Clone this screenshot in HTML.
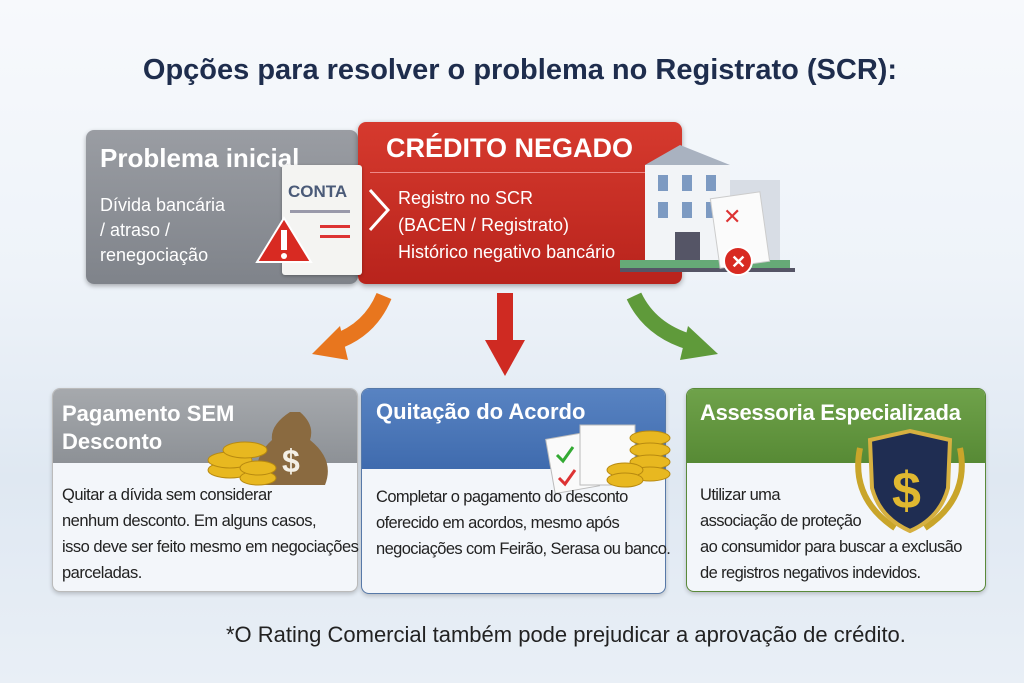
<!DOCTYPE html>
<html><head><meta charset="utf-8"><style>
body{margin:0;width:1024px;height:683px;overflow:hidden;font-family:"Liberation Sans",sans-serif;background:linear-gradient(180deg,#f7f9fc 0%,#eef3f9 40%,#dfe8f2 70%,#e9eff6 100%);position:relative}
.a{position:absolute}
.t{white-space:nowrap}
</style></head><body>
<div class="a t" style="left:0;width:1040px;top:54px;text-align:center;font-size:29px;font-weight:bold;color:#1e2d4d">Opções para resolver o problema no Registrato (SCR):</div>

<div class="a" style="left:86px;top:130px;width:272px;height:154px;border-radius:8px;background:linear-gradient(180deg,#9a9da3,#7f838a);box-shadow:0 2px 5px rgba(0,0,0,.3)"></div>
<div class="a t" style="left:100px;top:143px;font-size:26px;font-weight:bold;color:#fff">Problema inicial</div>
<div class="a" style="left:100px;top:193px;font-size:18px;color:#fff;line-height:25px">Dívida bancária<br>/ atraso /<br>renegociação</div>

<div class="a" style="left:358px;top:122px;width:324px;height:162px;border-radius:8px;background:linear-gradient(180deg,#d63a2e,#b8231c);box-shadow:0 2px 6px rgba(0,0,0,.35)"></div>
<div class="a t" style="left:386px;top:133px;font-size:27px;font-weight:bold;color:#fff">CRÉDITO NEGADO</div>
<div class="a" style="left:370px;top:172px;width:300px;height:1px;background:#e88"></div>
<div class="a" style="left:398px;top:185px;font-size:18px;color:#fff;line-height:27px;white-space:nowrap">Registro no SCR<br>(BACEN / Registrato)<br>Histórico negativo bancário</div>

<!-- bill -->
<div class="a" style="left:282px;top:165px;width:80px;height:110px;background:#f4f4f2;border-radius:3px;box-shadow:0 1px 3px rgba(0,0,0,.3)"></div>
<div class="a t" style="left:288px;top:182px;font-size:17px;font-weight:bold;color:#4a5a78">CONTA</div>
<div class="a" style="left:290px;top:210px;width:60px;height:3px;background:#99a"></div>
<div class="a" style="left:320px;top:225px;width:30px;height:3px;background:#d33"></div>
<div class="a" style="left:320px;top:235px;width:30px;height:3px;background:#d33"></div>
<svg class="a" style="left:254px;top:215px" width="60" height="50"><polygon points="30,3 57,47 3,47" fill="#d82a22" stroke="#fff" stroke-width="2"/><rect x="27" y="15" width="6" height="20" fill="#fff"/><circle cx="30" cy="41" r="3" fill="#fff"/></svg>
<svg class="a" style="left:364px;top:185px" width="30" height="50"><polyline points="6,5 24,25 6,45" fill="none" stroke="#fff" stroke-width="3"/></svg>

<!-- building -->
<svg class="a" style="left:620px;top:140px" width="180" height="140">
<polygon points="25,25 60,5 110,25" fill="#a9b2c0"/>
<rect x="25" y="25" width="85" height="105" fill="#f2f4f7"/>
<rect x="110" y="40" width="50" height="90" fill="#d8dde5"/>
<g fill="#7d9ac2"><rect x="38" y="35" width="10" height="16"/><rect x="62" y="35" width="10" height="16"/><rect x="86" y="35" width="10" height="16"/><rect x="38" y="62" width="10" height="16"/><rect x="62" y="62" width="10" height="16"/><rect x="86" y="62" width="10" height="16"/></g>
<rect x="55" y="92" width="25" height="38" fill="#556"/>
<rect x="0" y="120" width="170" height="8" fill="#6a7"/>
<rect x="0" y="128" width="175" height="4" fill="#556"/>
<rect x="95" y="55" width="50" height="70" fill="#fbfbfb" stroke="#ccc" transform="rotate(-8 120 90)"/>
<text x="103" y="84" font-size="22" fill="#d33" font-family="Liberation Sans">✕</text>
<circle cx="118" cy="121" r="14" fill="#d82a22" stroke="#fff" stroke-width="2"/>
<text x="111" y="128" font-size="18" fill="#fff" font-weight="bold" font-family="Liberation Sans">✕</text>
</svg>

<!-- arrows -->
<svg class="a" style="left:0;top:0" width="1024" height="683">
<path d="M384,296 Q370,330 335,342" fill="none" stroke="#e8761e" stroke-width="16"/>
<polygon points="312,354 340,326 348,360" fill="#e8761e"/>
<rect x="497" y="293" width="16" height="50" fill="#cf2a22"/>
<polygon points="485,340 525,340 505,376" fill="#cf2a22"/>
<path d="M634,296 Q650,330 690,342" fill="none" stroke="#5f9a3a" stroke-width="16"/>
<polygon points="718,354 688,326 680,360" fill="#5f9a3a"/>
</svg>

<!-- box 1 -->
<div class="a" style="left:52px;top:388px;width:304px;height:202px;border-radius:8px;background:#f3f6fa;border:1px solid #bbb;overflow:hidden;box-shadow:0 2px 4px rgba(0,0,0,.2)">
<div style="height:74px;background:linear-gradient(180deg,#a6a9ad,#8d9196)"></div></div>
<div class="a" style="left:62px;top:400px;font-size:22px;font-weight:bold;color:#fff;line-height:28px">Pagamento SEM<br>Desconto</div>
<svg class="a" style="left:200px;top:400px" width="140" height="90">
<path d="M90,12 Q70,25 72,40 Q50,60 60,85 L125,85 Q135,60 110,40 Q115,25 100,12Z" fill="#8a6a40"/>
<text x="82" y="72" font-size="32" font-weight="bold" fill="#f4f0e6" font-family="Liberation Sans">$</text>
<g fill="#e8b820" stroke="#b88a10"><ellipse cx="30" cy="70" rx="22" ry="8"/><ellipse cx="30" cy="60" rx="22" ry="8"/><ellipse cx="45" cy="50" rx="22" ry="8"/><ellipse cx="58" cy="78" rx="18" ry="7"/><ellipse cx="58" cy="68" rx="18" ry="7"/></g>
</svg>
<div class="a" style="left:62px;top:482px;font-size:16.5px;color:#222;line-height:26px;white-space:nowrap;letter-spacing:-.5px">Quitar a dívida sem considerar<br>nenhum desconto. Em alguns casos,<br>isso deve ser feito mesmo em negociações<br>parceladas.</div>

<!-- box 2 -->
<div class="a" style="left:361px;top:388px;width:303px;height:204px;border-radius:8px;background:#f3f6fa;border:1px solid #5779a8;overflow:hidden;box-shadow:0 2px 4px rgba(0,0,0,.2)">
<div style="height:80px;background:linear-gradient(180deg,#5883c2,#3f6bae)"></div></div>
<div class="a t" style="left:376px;top:399px;font-size:22px;font-weight:bold;color:#fff">Quitação do Acordo</div>
<svg class="a" style="left:545px;top:420px" width="130" height="75">
<rect x="5" y="15" width="45" height="55" fill="#fafafa" stroke="#bbb" transform="rotate(-10 28 42)"/>
<rect x="35" y="5" width="55" height="60" fill="#fafafa" stroke="#bbb"/>
<path d="M12,35 l6,6 l10,-14" stroke="#3a3" stroke-width="3" fill="none"/>
<path d="M14,58 l6,6 l10,-14" stroke="#d33" stroke-width="3" fill="none"/>
<g fill="#e8b820" stroke="#b88a10"><ellipse cx="105" cy="18" rx="20" ry="7"/><ellipse cx="105" cy="30" rx="20" ry="7"/><ellipse cx="105" cy="42" rx="20" ry="7"/><ellipse cx="105" cy="54" rx="20" ry="7"/><ellipse cx="80" cy="50" rx="18" ry="7"/><ellipse cx="80" cy="60" rx="18" ry="7"/></g>
</svg>
<div class="a" style="left:376px;top:484px;font-size:16.5px;color:#222;line-height:26px;white-space:nowrap;letter-spacing:-.6px">Completar o pagamento do desconto<br>oferecido em acordos, mesmo após<br>negociações com Feirão, Serasa ou banco.</div>

<!-- box 3 -->
<div class="a" style="left:686px;top:388px;width:298px;height:202px;border-radius:8px;background:#f3f6fa;border:1px solid #5a8a3a;overflow:hidden;box-shadow:0 2px 4px rgba(0,0,0,.2)">
<div style="height:74px;background:linear-gradient(180deg,#6fa24a,#578a35)"></div></div>
<div class="a t" style="left:700px;top:400px;font-size:22px;font-weight:bold;color:#fff;letter-spacing:-.3px">Assessoria Especializada</div>
<svg class="a" style="left:840px;top:428px" width="140" height="110">
<path d="M20,20 Q10,70 55,100 M120,20 Q130,70 85,100" stroke="#c9a52a" stroke-width="6" fill="none"/>
<path d="M30,12 L70,3 L110,12 L108,60 Q100,90 70,103 Q40,90 32,60Z" fill="#1f2d52" stroke="#d6b040" stroke-width="4"/>
<text x="52" y="80" font-size="52" font-weight="bold" fill="#e0b830" font-family="Liberation Sans">$</text>
</svg>
<div class="a" style="left:700px;top:482px;font-size:16.5px;color:#222;line-height:26px;white-space:nowrap;letter-spacing:-.6px">Utilizar uma<br>associação de proteção<br>ao consumidor para buscar a exclusão<br>de registros negativos indevidos.</div>

<div class="a t" style="left:226px;top:622px;font-size:22px;color:#222">*O Rating Comercial também pode prejudicar a aprovação de crédito.</div>
</body></html>
